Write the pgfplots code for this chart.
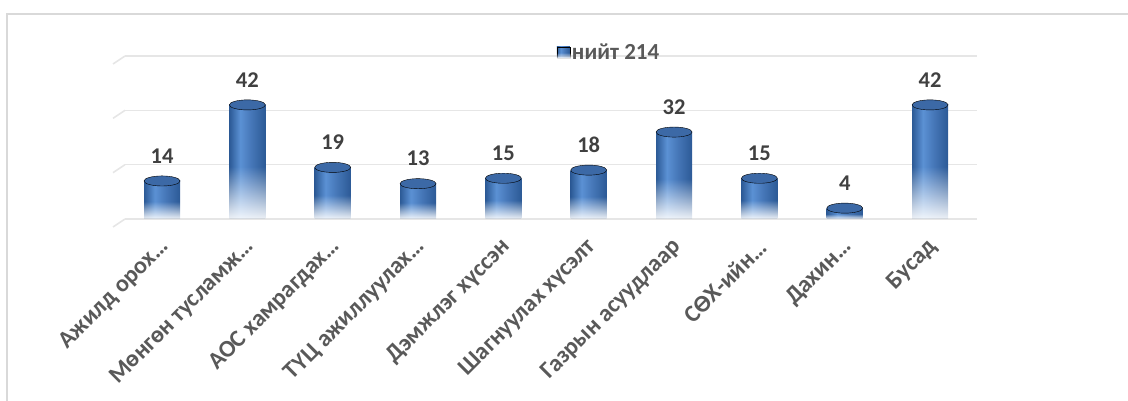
\documentclass[border=0pt]{standalone}
\usepackage{fontspec}
\setmainfont{Carlito}
\usepackage{pgfplots}
\usepackage{pgfplotstable}
\pgfplotsset{compat=1.18}
\usetikzlibrary{fadings}
\definecolor{cdark}{HTML}{2C5A96}
\definecolor{cmid}{HTML}{4677B8}
\definecolor{clight}{HTML}{5B91D4}
\definecolor{capblue}{HTML}{3C69A6}
\definecolor{gridgray}{HTML}{E6E6E6}
\definecolor{framegray}{HTML}{D9D9D9}
\definecolor{labgray}{HTML}{595959}
\definecolor{valgray}{HTML}{404040}
\pgfdeclarehorizontalshading{cyl}{100bp}{color(0bp)=(cdark); color(25bp)=(cdark); color(40bp)=(clight); color(55bp)=(cmid); color(75bp)=(cdark); color(100bp)=(cdark)}
\pgfdeclareverticalshading{fadeshade}{100bp}{color(0bp)=(pgftransparent!100); color(25bp)=(pgftransparent!92); color(48bp)=(pgftransparent!0); color(100bp)=(pgftransparent!0)}
\pgfdeclarefading{barfade}{\pgfuseshading{fadeshade}}
\pgfplotstableread{
x val
0 14
1 42
2 19
3 13
4 15
5 18
6 32
7 15
8 4
9 42
}\datatable
\begin{document}
\begin{tikzpicture}
\useasboundingbox (0,0) rectangle (1128pt,401pt);
\draw[framegray, line width=1.2pt] (7pt,0) -- (7pt,387pt) -- (1128pt,387pt);
\begin{axis}[
  at={(125pt,182pt)}, anchor=south west,
  scale only axis, width=852pt, height=163pt,
  xmin=-0.434, xmax=9.55, ymin=0, ymax=60,
  ytick={0,20,40,60}, yticklabels={},
  xtick={0,...,9},
  xticklabels={Ажилд орох…, Мөнгөн тусламж…, АОС хамрагдах…, ТҮЦ ажиллуулах…, Дэмжлэг хүссэн, Шагнуулах хүсэлт, Газрын асуудлаар, СӨХ-ийн…, Дахин…, Бусад},
  axis line style={draw=none},
  major tick length=0pt,
  /pgf/number format/assume math mode=true,
  ymajorgrids, grid style={gridgray, line width=1.6pt},
  clip=false,
  x tick label style={font=\fontsize{24}{27}\selectfont\bfseries, text=labgray, xshift=6pt, yshift=-22pt, rotate=45, anchor=east},
  legend style={at={(axis description cs:0.568,1.02)}, anchor=center, draw=none, fill=none, font=\fontsize{23}{26}\selectfont\bfseries, text=labgray},
  legend image code/.code={\shade[shading=cyl, path fading=barfade] (0pt,-5pt) rectangle (13pt,6pt);},
]
\pgfplotsinvokeforeach{0,20,40,60}{\draw[gridgray, line width=1.6pt] (axis cs:-0.434,#1) -- ++(-12pt,-8pt);}
\pgfplotsinvokeforeach{0,...,9}{
  \addplot[ybar, bar width=36pt, bar shift=0pt, draw=none, shade, shading=cyl, path fading=barfade, forget plot,
    restrict expr to domain={\coordindex}{#1:#1}] table[x=x, y=val] {\datatable};
}
\addlegendimage{}
\addlegendentry{нийт 214}
\addplot[only marks, mark=*, mark size=18pt, mark options={yscale=0.28, fill=capblue, draw=none},
  nodes near coords, nodes near coords style={font=\fontsize{22.5}{25}\selectfont\bfseries, text=valgray, anchor=south, yshift=14pt}, forget plot] table[x=x, y=val] {\datatable};
\end{axis}
\end{tikzpicture}
\end{document}
